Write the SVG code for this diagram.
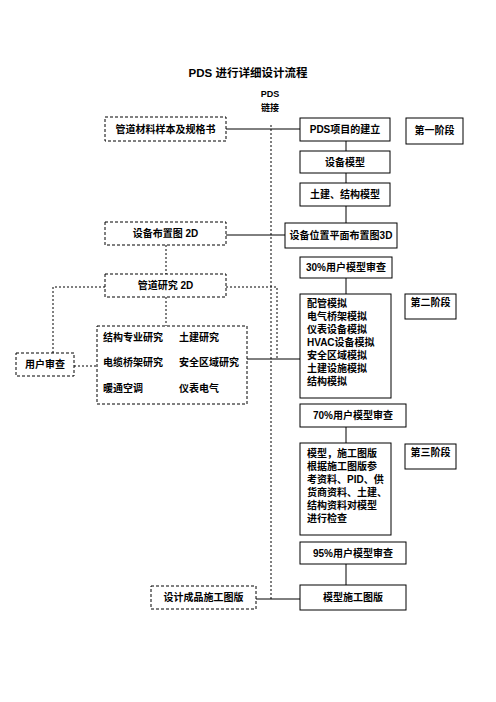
<svg xmlns="http://www.w3.org/2000/svg" width="496" height="702" viewBox="0 0 496 702">
<style>
text{font-family:"Liberation Sans","Noto Sans CJK SC",sans-serif;font-weight:bold;font-size:10px;fill:#000}
.c{text-anchor:middle}
.box{fill:#fff;stroke:#000;stroke-width:1}
.dbox{fill:#fff;stroke:#000;stroke-width:1;stroke-dasharray:3,2}
.ln{stroke:#000;stroke-width:1;fill:none}
.dl{stroke:#000;stroke-width:1;fill:none;stroke-dasharray:2,2}
</style>
<rect width="496" height="702" fill="#fff"/>
<text class="c" x="248" y="77" style="font-size:11.5px">PDS 进行详细设计流程</text>
<text class="c" x="270" y="97" style="font-size:9px">PDS</text>
<text class="c" x="270" y="111" style="font-size:9px">链接</text>
<g id="connectors">
<path class="dl" d="M271,125V599"/>
<path class="ln" d="M226,129H300"/>
<path class="ln" d="M346,141V151M346,173V183M346,206V223M346,278V294M346,427V443M346,564V585"/>
<path class="ln" d="M226,235H285"/>
<path class="dl" d="M166,245V274"/>
<path class="dl" d="M105,287H53V353"/>
<path class="dl" d="M74,366H97"/>
<path class="dl" d="M166,297V326"/>
<path class="dl" d="M226,287H277V359"/>
<path class="ln" d="M247,359H300"/>
<path class="ln" d="M256,599H300"/>
</g>
<g id="n_material"><rect class="dbox" x="105" y="117" width="121" height="24"/><text class="c" x="165.5" y="132.5">管道材料样本及规格书</text></g>
<g id="n_pds"><rect class="box" x="300" y="118" width="90" height="23"/><text class="c" x="345" y="133">PDS项目的建立</text></g>
<g id="n_stage1"><rect class="box" x="406" y="118" width="57" height="26"/><text class="c" x="434.5" y="134">第一阶段</text></g>
<g id="n_equip"><rect class="box" x="300" y="151" width="90" height="22"/><text class="c" x="345" y="165.5">设备模型</text></g>
<g id="n_civil"><rect class="box" x="300" y="183" width="90" height="23"/><text class="c" x="345" y="198">土建、结构模型</text></g>
<g id="n_layout2d"><rect class="dbox" x="105" y="222" width="121" height="23"/><text class="c" x="165.5" y="237">设备布置图 2D</text></g>
<g id="n_layout3d"><rect class="box" x="285" y="223" width="112" height="25"/><text class="c" x="341" y="239">设备位置平面布置图3D</text></g>
<g id="n_review30"><rect class="box" x="300" y="257" width="92" height="21"/><text class="c" x="346" y="271">30%用户模型审查</text></g>
<g id="n_piping2d"><rect class="dbox" x="105" y="274" width="121" height="23"/><text class="c" x="165.5" y="289">管道研究 2D</text></g>
<g id="n_user"><rect class="dbox" x="16" y="353" width="58" height="23"/><text class="c" x="45" y="368">用户审查</text></g>
<g id="n_studies"><rect class="dbox" x="97" y="326" width="150" height="78"/>
<text x="103" y="340.5">结构专业研究</text><text x="179" y="340.5">土建研究</text>
<text x="103" y="365.5">电缆桥架研究</text><text x="179" y="365.5">安全区域研究</text>
<text x="103" y="391.5">暖通空调</text><text x="179" y="391.5">仪表电气</text></g>
<g id="n_sim"><rect class="box" x="300" y="294" width="91" height="104"/>
<text x="307" y="306.5">配管模拟</text>
<text x="307" y="319.5">电气桥架模拟</text>
<text x="307" y="332.5">仪表设备模拟</text>
<text x="307" y="345.5">HVAC设备模拟</text>
<text x="307" y="358.5">安全区域模拟</text>
<text x="307" y="371.5">土建设施模拟</text>
<text x="307" y="384.5">结构模拟</text></g>
<g id="n_stage2"><rect class="box" x="405" y="294" width="51" height="25"/><text class="c" x="430.5" y="306">第二阶段</text></g>
<g id="n_review70"><rect class="box" x="300" y="404" width="106" height="23"/><text class="c" x="353" y="419">70%用户模型审查</text></g>
<g id="n_check"><rect class="box" x="300" y="443" width="91" height="92"/>
<text x="307" y="456.5">模型，施工图版</text>
<text x="307" y="469.5">根据施工图版参</text>
<text x="307" y="482.5">考资料、PID、供</text>
<text x="307" y="496">货商资料、土建、</text>
<text x="307" y="509">结构资料对模型</text>
<text x="307" y="522">进行检查</text></g>
<g id="n_stage3"><rect class="box" x="405" y="444" width="51" height="25"/><text class="c" x="430.5" y="456">第三阶段</text></g>
<g id="n_review95"><rect class="box" x="300" y="542" width="106" height="22"/><text class="c" x="353" y="556.5">95%用户模型审查</text></g>
<g id="n_design"><rect class="dbox" x="151" y="586" width="105" height="23"/><text class="c" x="203.5" y="601">设计成品施工图版</text></g>
<g id="n_model"><rect class="box" x="300" y="585" width="106" height="25"/><text class="c" x="353" y="601">模型施工图版</text></g>
</svg>
